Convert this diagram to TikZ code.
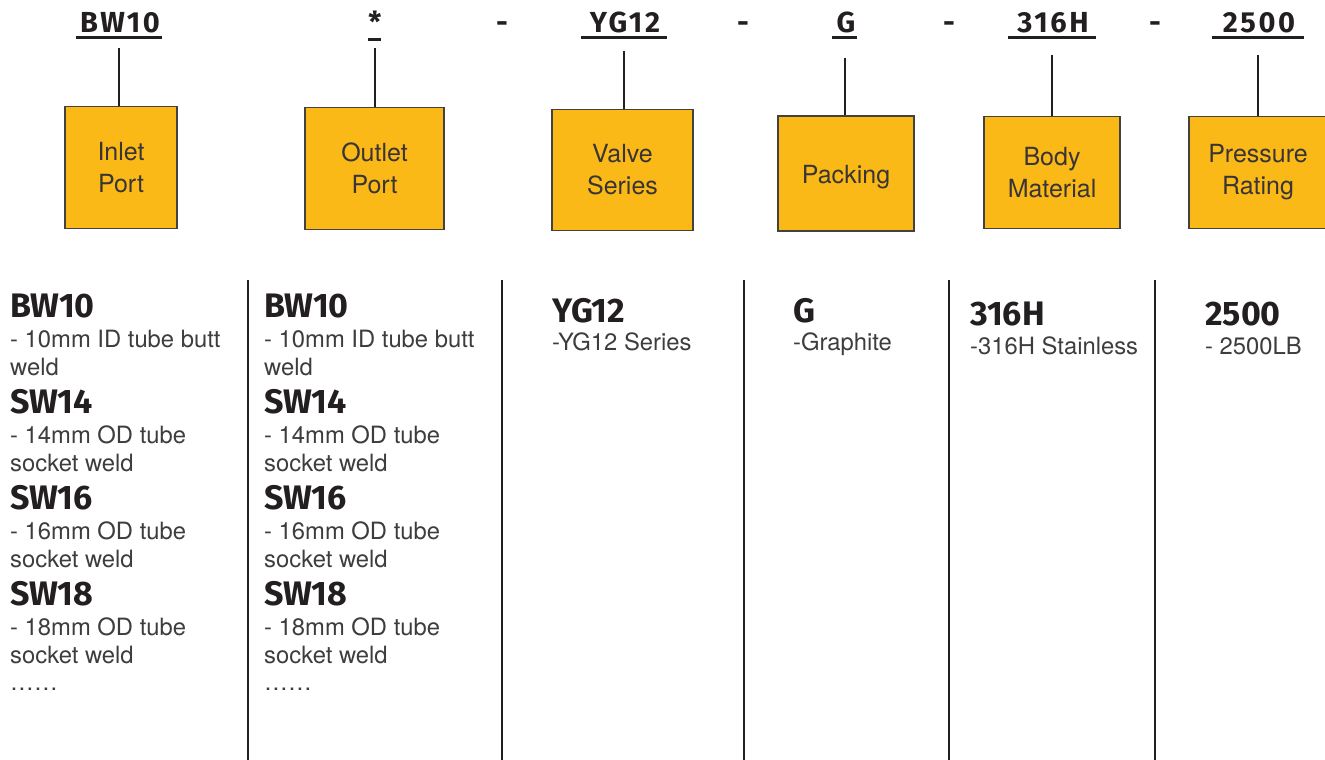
\documentclass[tikz,border=0pt]{standalone}
\usepackage{fontspec}
\setmainfont{TeX Gyre Heros}
\newfontfamily\hdfont{Fira Sans}
\newfontfamily\codefont{Fira Sans}[LetterSpace=9]
\definecolor{boxyellow}{RGB}{251,185,24}
\definecolor{ink}{RGB}{35,31,32}
\definecolor{bodyink}{RGB}{62,60,60}
\begin{document}
\begin{tikzpicture}[x=1pt,y=-1pt,
  codetxt/.style={font=\codefont\bfseries\fontsize{29}{29}\selectfont, text=ink, anchor=base, inner sep=0pt},
  dashtxt/.style={font=\hdfont\bfseries\fontsize{29}{29}\selectfont, text=ink, anchor=base, inner sep=0pt},
  uline/.style={line width=2.5pt, draw=ink},
  catbox/.style={draw=ink!85, line width=1.4pt, fill=boxyellow, align=center, text=ink!90,
     font=\fontsize{25}{32}\selectfont, inner sep=0pt},
  conn/.style={draw=ink, line width=1.6pt},
  sep/.style={draw=ink, line width=2pt},
  headtxt/.style={font=\hdfont\bfseries\fontsize{34}{34}\selectfont, text=ink, anchor=base west, inner sep=0pt},
  bodytxt/.style={font=\fontsize{23.8}{23.8}\selectfont, text=bodyink, anchor=base west, inner sep=0pt}
]
\useasboundingbox (0,0) rectangle (1325,760);
\begin{scope}
\clip (0,0) rectangle (1325,760);
% header codes
\node[codetxt] (k1) at (120,33) {BW10};
\node[codetxt] (k2) at (375,33) {*};
\node[dashtxt] (d1) at (502,33) {-};
\node[codetxt] (k3) at (625,33) {YG12};
\node[dashtxt] (d2) at (743,33) {-};
\node[codetxt] (k4) at (846,33) {G};
\node[dashtxt] (d3) at (949,33) {-};
\node[codetxt] (k5) at (1053,33) {316H};
\node[dashtxt] (d4) at (1155,33) {-};
\node[codetxt] (k6) at (1259,33) {2500};
% underlines
\draw[uline] ([xshift=-4pt,yshift=-4.5pt]k1.base west) -- ([xshift=2pt,yshift=-4.5pt]k1.base east);
\draw[uline,line width=3pt] ([xshift=0pt,yshift=-7pt]k2.base west) -- ([xshift=-1pt,yshift=-7pt]k2.base east);
\draw[uline] ([xshift=-9pt,yshift=-4.5pt]k3.base west) -- ([xshift=7pt,yshift=-4.5pt]k3.base east);
\draw[uline] ([xshift=-4pt,yshift=-4.5pt]k4.base west) -- ([xshift=1pt,yshift=-4.5pt]k4.base east);
\draw[uline] ([xshift=-9pt,yshift=-4.5pt]k5.base west) -- ([xshift=7pt,yshift=-4.5pt]k5.base east);
\draw[uline] ([xshift=-11pt,yshift=-4.5pt]k6.base west) -- ([xshift=9pt,yshift=-4.5pt]k6.base east);
% boxes
\node[catbox, minimum width=112pt, minimum height=122pt] (b1) at (121,167.5) {Inlet\\Port};
\node[catbox, minimum width=139pt, minimum height=122pt] (b2) at (374.5,168.5) {Outlet\\Port};
\node[catbox, minimum width=141pt, minimum height=121pt] (b3) at (622.5,170) {Valve\\Series};
\node[catbox, minimum width=136pt, minimum height=115pt] (b4) at (846,173.5) {\raisebox{-4pt}[\height][\depth]{Packing}};
\node[catbox, minimum width=136pt, minimum height=112pt] (b5) at (1052,172.5) {Body\\Material};
\node[catbox, minimum width=138pt, minimum height=112pt] (b6) at (1258,172.5) {Pressure\\Rating};
% connectors
\coordinate (t1) at (119,48);
\coordinate (t2) at (375,48);
\coordinate (t3) at (624,51);
\coordinate (t4) at (845,58);
\coordinate (t5) at (1052,55);
\coordinate (t6) at (1258,55);
\foreach \i in {1,...,6} \draw[conn] (t\i) -- (t\i |- b\i.north);
% separators
\foreach \x in {248,502,744,949,1155} \draw[sep] (\x,280) -- (\x,760);
% column 1 and 2
\foreach \cx/\cn in {10/a,264/b}{
  \foreach \h/\la/\lb [count=\i] in {BW10/- 10mm ID tube butt/weld, SW14/- 14mm OD tube/socket weld, SW16/- 16mm OD tube/socket weld, SW18/- 18mm OD tube/socket weld}{
    \node[headtxt] (h\cn\i) at (\cx,{317+96*(\i-1)}) {\h};
    \node[bodytxt] (p\cn\i) at (\cx,{347+96*(\i-1)}) {\la};
    \node[bodytxt] (q\cn\i) at (\cx,{375+96*(\i-1)}) {\lb};
  }
  \node[bodytxt] (e\cn) at (\cx,690) {……};
}
% other columns
\node[headtxt] (h3) at (552,322) {YG12};
\node[bodytxt] (p3) at (552,350) {-YG12 Series};
\node[headtxt] (h4) at (793,322) {G};
\node[bodytxt] (p4) at (793,350) {-Graphite};
\node[headtxt] (h5) at (970,325) {316H};
\node[bodytxt] (p5) at (970,354) {-316H Stainless};
\node[headtxt] (h6) at (1205,325) {2500};
\node[bodytxt] (p6) at (1205,354) {- 2500LB};
\end{scope}
\end{tikzpicture}
\end{document}
